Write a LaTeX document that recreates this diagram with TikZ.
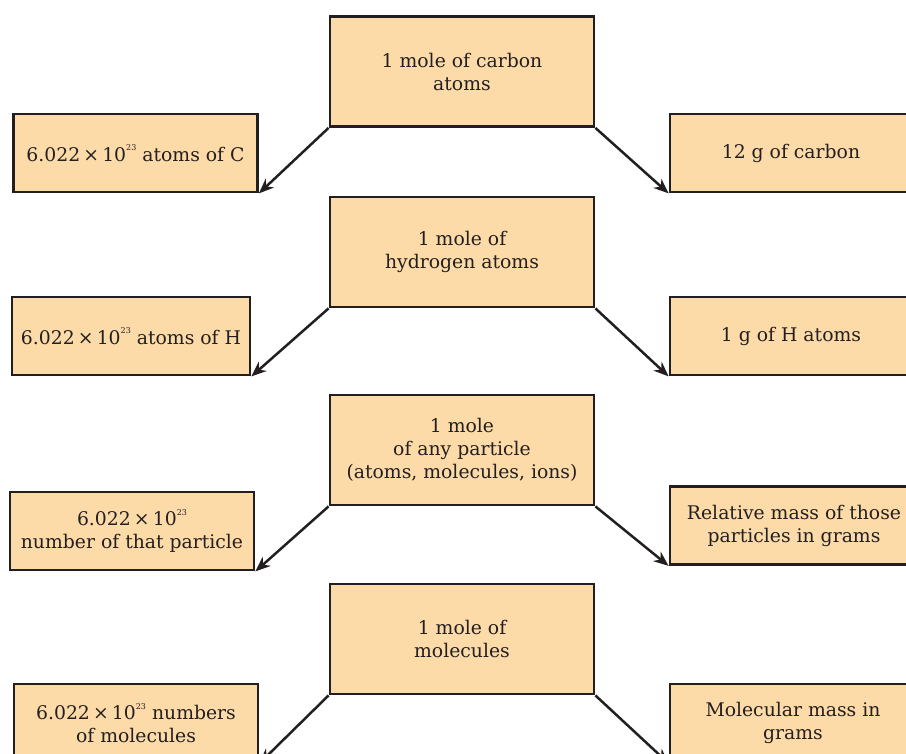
\documentclass[tikz,border=0pt]{standalone}
\usepackage{fontspec}
\setmainfont{DejaVu Serif}
\usepackage{tikz}
\usetikzlibrary{positioning,arrows.meta}
\definecolor{MoleFill}{HTML}{FDDBA8}
\definecolor{MoleLine}{HTML}{231F20}
\newcommand{\avog}{6.022\,×\,10\raisebox{0.55em}{\fontsize{8}{8}\selectfont 23}}

\begin{document}
\begin{tikzpicture}[x=1pt, y=-1pt,
                      >={Stealth[length=15pt,width=12pt]},
                      every node/.style={draw=MoleLine, line width=2.8pt, fill=MoleFill,
                                         align=center, inner sep=2pt, text=MoleLine,
                                         font=\fontsize{18.8}{23}\selectfont},
                      mole/.style={minimum width=264pt, minimum height=110pt},
                      side/.style={minimum width=244pt, minimum height=78pt},
                      link/.style={->, draw=MoleLine, line width=2.5pt}]
  \useasboundingbox (0,0) rectangle (906,754);
  \clip (0,0) rectangle (906,754);
  % carbon
  \node[mole] (molC) at (462,71.5) {1 mole of carbon\\atoms};
  \node[side] (atomsC) at (135.5,153) {\avog{} atoms of C};
  \node[side, minimum width=242pt] (massC) at (791,153) {12 g of carbon};
  % hydrogen
  \node[mole] (molH) at (462,252) {1 mole of\\hydrogen atoms};
  \node[side, minimum width=238pt] (atomsH) at (131,336) {\avog{} atoms of H};
  \node[side, minimum width=242pt] (massH) at (791,336) {1 g of H atoms};
  % any particle
  \node[mole] (molP) at (462,450) {1 mole\\of any particle\\(atoms, molecules, ions)};
  \node[side] (numP) at (132,531) {\avog\\number of that particle};
  \node[side, minimum width=248pt] (massP) at (794,525.5) {Relative mass of those\\particles in grams};
  % molecules
  \node[mole] (molM) at (462,639) {1 mole of\\molecules};
  \node[side] (numM) at (136,723) {\avog{} numbers\\of molecules};
  \node[side, minimum width=246pt] (massM) at (793,723) {Molecular mass in\\grams};
  \draw[link] (molC.south west) -- (atomsC.south east);
  \draw[link] (molC.south east) -- (massC.south west);
  \draw[link] (molH.south west) -- (atomsH.south east);
  \draw[link] (molH.south east) -- (massH.south west);
  \draw[link] (molP.south west) -- (numP.south east);
  \draw[link] (molP.south east) -- (massP.south west);
  \draw[link] (molM.south west) -- (numM.south east);
  \draw[link] (molM.south east) -- (massM.south west);
\end{tikzpicture}
\end{document}
